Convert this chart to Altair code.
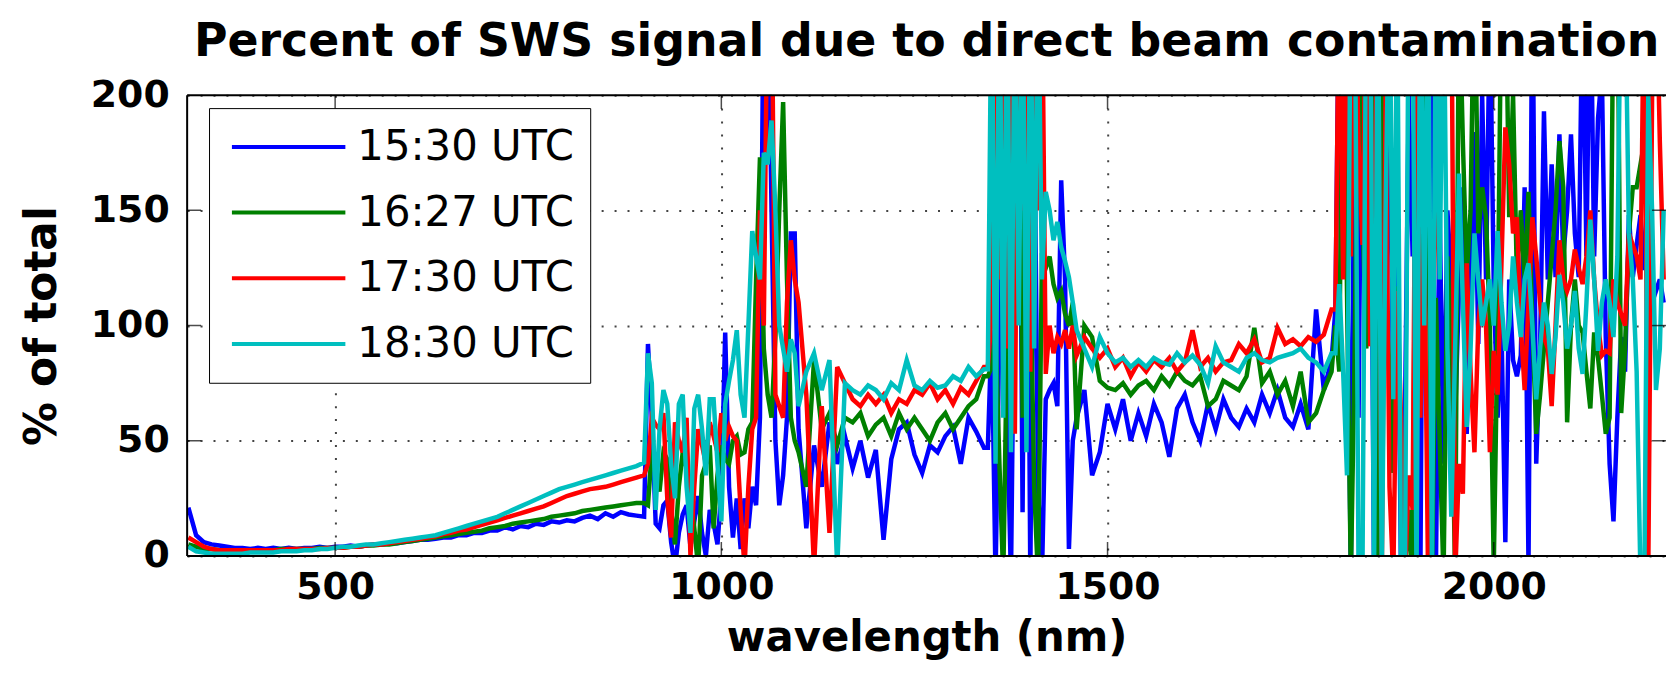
import altair as alt
import pandas as pd

# ---------------- data ----------------
# wavelength samples, region by region (nm)
WL_A = [310, 320, 330, 340, 350, 360, 370, 380, 390, 400,
        410, 420, 430, 440, 450, 460, 470, 480, 490, 500,
        510, 520, 530, 540, 550, 560, 570, 580, 590, 600,
        610, 620, 630, 640, 650, 660, 670, 680, 690, 700,
        710, 720, 730, 740, 750, 760, 770, 780, 790, 800,
        810, 820, 830, 840, 850, 860, 870, 880, 890, 900]
WL_B = [905, 910, 915, 920, 925, 930, 935, 940, 945, 950,
        955, 960, 965, 970, 975, 980, 985, 990, 995, 1000,
        1005, 1010, 1015, 1020, 1025, 1030, 1035, 1040, 1045, 1050,
        1055, 1060, 1065, 1070, 1075, 1080, 1085, 1090, 1095, 1100]
WL_C = [1110, 1120, 1130, 1140, 1150, 1160, 1170, 1180, 1190, 1200,
        1210, 1220, 1230, 1240, 1250, 1260, 1270, 1280, 1290, 1300,
        1310, 1320, 1330, 1340]
WL_D = [1345, 1350, 1355, 1360, 1365, 1370, 1375, 1380, 1385, 1390,
        1395, 1400, 1405, 1410, 1415, 1420, 1425, 1430, 1435, 1440,
        1445, 1450, 1455, 1460]
WL_E = [1470, 1480, 1490, 1500,
        1510, 1520, 1530, 1540, 1550, 1560, 1570, 1580, 1590, 1600,
        1610, 1620, 1630, 1640, 1650, 1660, 1670, 1680, 1690, 1700,
        1710, 1720, 1730, 1740, 1750, 1760, 1770, 1780, 1790]
WL_F = [1795, 1800, 1805, 1810, 1815, 1820, 1825, 1830, 1835, 1840,
        1845, 1850, 1855, 1860, 1865, 1870, 1875, 1880, 1885, 1890,
        1895, 1900, 1905, 1910, 1915, 1920, 1925, 1930, 1935, 1940,
        1945, 1950, 1955, 1960, 1965, 1970, 1975, 1980, 1985, 1990,
        1995, 2000, 2005, 2010, 2015, 2020, 2025, 2030, 2035, 2040,
        2045, 2050, 2055, 2060, 2065, 2070, 2075, 2080, 2085, 2090,
        2095, 2100, 2105, 2110, 2115, 2120, 2125, 2130, 2135, 2140,
        2145, 2150, 2155, 2160, 2165, 2170, 2175, 2180, 2185, 2190,
        2195, 2200, 2205, 2210, 2215, 2220]

# ---- 15:30 UTC (blue)
B_A = [21, 9, 6, 5, 4.5, 4, 3.5, 3.5, 3, 3.5,
       3, 3.5, 3, 3.5, 3, 3.5, 3.5, 4, 3.5, 4,
       4, 4.5, 4, 4.5, 5, 5, 5.5, 5.5, 6, 6.5,
       7, 7, 7.5, 8, 8, 9, 9, 10, 10, 11,
       11, 12.5, 11.5, 13, 12.5, 14, 13.5, 15, 14.5, 15.5,
       15, 16.5, 17.5, 16, 18.5, 17, 19, 18, 17.5, 17]
B_B = [92, 60, 14, 12, 22, 24, 6, -5, 10, 18,
       22, 4, 15, 26, 10, 0, 20, 14, 5, 28,
       97, 30, 8, 25, 3, 25, 12, 30, 22, 60,
       260, 260, 150, 50, 22, 35, 60, 140, 140, 55]
B_C = [12, 48, 30, 58, 40, 52, 38, 50, 34, 46,
       7, 42, 55, 58, 44, 36, 48, 45, 52, 56,
       40, 60, 54, 47]
B_D = [47, 98, -10, 100, 260, 60, -10, 150, 260, 19,
       260, -10, 200, 30, -10, 68, 72, 75, 65, 163,
       120, 3, 50, 60]
B_E = [72, 35, 45, 66,
       55, 68, 50, 62, 52, 66, 58, 43, 64, 70,
       58, 50, 66, 55, 68, 60, 56, 64, 58, 70,
       62, 72, 60, 56, 66, 55, 107, 72, 85]
B_F = [107, 260, 260, 140, -10, 210, 60, 260, 120, 230,
       -10, 190, 260, 100, 200, 65, 150, -10, 60, 200,
       130, 260, -10, 260, 150, 260, -10, 150, 40, 150,
       120, 60, 115, 160, 53, 115, 184, 92, 200, 120,
       240, 118, 60, 100, 6, 120, 85, 78, 87, 160,
       -5, 260, 40, 90, 193, 120, 170, 121, 183, 130,
       150, 183, 140, 121, 250, 130, 260, 130, 190, 210,
       95, 40, 15, 60, 95, 80, 148, 121, 135, 148,
       125, 125, 110, 115, 120, 110]

# ---- 16:27 UTC (green)
G_A = [5, 4, 3, 3, 2.5, 2.5, 2.5, 2.5, 2.5, 2.5,
       2.5, 2.5, 3, 3, 3, 3, 3, 3.5, 3.5, 3.5,
       3.5, 4, 4, 4.5, 4.5, 5, 5, 5.5, 6, 6.5,
       7, 7.5, 8, 8.5, 9, 9.5, 10, 10.5, 11, 12,
       12.5, 13, 14, 14.5, 15, 15.5, 16, 17, 17.5, 18,
       18.5, 19.5, 20, 20.5, 21, 21.5, 22, 22.5, 23, 23]
G_B = [22, 46, 35, 28, 45, 42, 20, 5, 30, 45,
       38, 30, 12, -5, 35, 40, 48, 12, 35, 48,
       42, 40, 50, 52, 44, 45, 55, 58, 120, 173,
       90, 70, 60, 95, 150, 197, 120, 60, 50, 45]
G_C = [30, 85, 55, 62, 48, 60, 58, 62, 52, 57,
       60, 52, 62, 55, 60, 55, 50, 58, 62, 55,
       60, 65, 68, 78]
G_D = [78, 82, 99, 40, -10, 98, 260, 120, 260, 60,
       260, 128, 30, -10, 128, 125, 130, 118, 112, 115,
       105, 100, 110, 55]
G_E = [100, 95, 76, 73,
       72, 75, 70, 74, 76, 72, 78, 74, 80, 76,
       74, 78, 65, 68, 76, 74, 72, 78, 99, 75,
       80, 70, 76, 65, 80, 58, 62, 72, 80]
G_F = [100, 80, 260, 115, -10, 90, 250, 150, 90, 250,
       200, -10, 260, 117, 80, 36, 117, 40, -10, 20,
       -10, 240, 102, 250, 160, -10, 112, 50, -10, 130,
       90, -10, 250, 180, 122, 150, 260, 140, 160, 147,
       100, -5, 100, 250, 260, 147, 200, 120, 150, 120,
       158, 100, 53, 70, 90, 110, 130, 150, 180, 160,
       58, 100, 120, 100, 97, 80, 64, 97, 86, 70,
       53, 60, 250, 260, 62, 90, 140, 160, 160, 170,
       180, 200, 250, 250, 210, 200]

# ---- 17:30 UTC (red)
R_A = [8, 6, 4, 3, 2.5, 2.5, 2.5, 2.5, 2.5, 2.5,
       2.5, 2.5, 2.5, 3, 3, 3, 3, 3, 3.5, 3.5,
       3.5, 4, 4, 4.5, 5, 5, 5.5, 6, 6.5, 7,
       7.5, 8, 8.5, 9.5, 10, 11, 11.5, 12.5, 13.5, 14.5,
       15.5, 16.5, 17.5, 18.5, 19.5, 20.5, 21.5, 23, 24.5, 26,
       27, 28, 29, 29.5, 30, 31, 32, 33, 34, 35]
R_B = [40, 60, 57, 55, 62, 25, 8, 58, 50, 45,
       60, 0, 30, 55, 48, 40, 58, 52, 45, 62,
       50, 56, 52, 50, 20, -5, 30, 55, 60, 150,
       100, 260, 260, 70, 65, 60, 110, 137, 120, 110]
R_C = [70, -5, 65, 10, 82, 75, 68, 65, 70, 66,
       70, 62, 68, 66, 72, 70, 75, 68, 72, 66,
       73, 70, 76, 82]
R_D = [82, 104, 260, 120, 260, 90, 260, 53, 260, 150,
       260, 80, 260, 150, 260, 79, 100, 88, 95, 92,
       98, 90, 100, 87]
R_E = [95, 90, 86, 90,
       82, 86, 78, 84, 80, 85, 82, 86, 80, 84,
       98, 82, 86, 80, 84, 85, 92, 88, 94, 84,
       86, 99, 92, 94, 91, 95, 93, 96, 107]
R_F = [107, 260, 120, 260, 130, 260, 179, 135, 260, 91,
       135, 260, -10, 200, 30, -10, 115, 60, -10, 35,
       20, 260, 60, 140, -10, 90, 150, 260, 200, 260,
       260, -10, 40, 27, 127, 80, 45, 100, 120, 100,
       45, 89, 70, 127, 186, 170, 140, 147, 100, 72,
       110, 147, 130, 110, 95, 90, 65, 100, 137, 120,
       115, 120, 133, 125, 118, 130, 150, 120, 100, 87,
       89, 88, 120, 110, 105, 100, 140, 135, 130, 120,
       260, -10, 200, 260, 180, 120]

# ---- 18:30 UTC (cyan)
C_A = [4, 2, 1.5, 1, 1, 1, 1, 1, 1.5, 1.5,
       1.5, 1.5, 2, 2, 2, 2.5, 2.5, 3, 3, 3.5,
       4, 4, 4.5, 5, 5, 5.5, 6, 6.5, 7, 7.5,
       8, 8.5, 9, 10, 11, 12, 13, 14, 15, 16,
       17, 18.5, 20, 21.5, 23, 24.5, 26, 27.5, 29, 30,
       31, 32, 33, 34, 35, 36, 37, 38, 39, 40.5]
C_B = [88, 75, 20, 55, 72, 66, 40, 25, 66, 70,
       30, 10, 64, 70, 55, 35, 68, 68, 40, 15,
       66, 76, 85, 98, 70, 60, 100, 141, 130, 120,
       175, 170, 189, 150, 100, 90, 80, 94, 88, 65]
C_C = [80, 88, 72, 85, -5, 75, 72, 70, 74, 72,
       68, 75, 72, 85, 74, 72, 76, 73, 74, 78,
       76, 82, 78, 81]
C_D = [81, 260, 40, 260, 60, 260, 45, 260, 100, 260,
       45, 260, 90, 260, 120, 158, 150, 137, 145, 134,
       128, 121, 110, 98]
C_E = [90, 82, 95, 88,
       84, 86, 82, 85, 82, 86, 84, 83, 88, 84,
       87, 83, 75, 91, 84, 82, 80, 86, 88, 85,
       84, 86, 87, 88, 90, 86, 84, 80, 88]
C_F = [88, 118, 80, 35, 260, 260, -10, -10, 260, 250,
       -10, 260, -10, 150, 260, 68, 250, -10, -10, 260,
       240, -10, 260, 100, 260, -10, 250, 120, 260, 90,
       17, 90, 166, 110, 56, 90, 140, 120, 100, 110,
       120, 100, 141, 110, 89, 100, 130, 110, 95, 120,
       127, 100, 68, 90, 110, 100, 79, 95, 122, 110,
       90, 100, 115, 90, 79, 110, 146, 120, 89, 110,
       120, 110, 95, 130, 260, 250, 140, 120, 80, -10,
       -10, 200, 150, 72, 90, 150]

WAVELENGTH = WL_A + WL_B + WL_C + WL_D + WL_E + WL_F
UTC_1530 = B_A + B_B + B_C + B_D + B_E + B_F
UTC_1627 = G_A + G_B + G_C + G_D + G_E + G_F
UTC_1730 = R_A + R_B + R_C + R_D + R_E + R_F
UTC_1830 = C_A + C_B + C_C + C_D + C_E + C_F

SERIES_LABELS = ["15:30 UTC", "16:27 UTC", "17:30 UTC", "18:30 UTC"]
SERIES_VALUES = [UTC_1530, UTC_1627, UTC_1730, UTC_1830]
SERIES_COLORS = ["#0000FF", "#008000", "#FF0000", "#00BFBF"]
for vals in SERIES_VALUES:
    assert len(vals) == len(WAVELENGTH), (len(vals), len(WAVELENGTH))

X_TICKS = [500, 1000, 1500, 2000]
Y_TICKS = [0, 50, 100, 150, 200]
X_DOMAIN = [308.4, 2223]
Y_DOMAIN = [0, 200]

TITLE = "Percent of SWS signal due to direct beam contamination"
X_TITLE = "wavelength (nm)"
Y_TITLE = "% of total"

# ---------------- tables ----------------
rows = []
for label, vals in zip(SERIES_LABELS, SERIES_VALUES):
    for w, v in zip(WAVELENGTH, vals):
        rows.append({"wavelength": w, "pct": v, "time": label})
df = pd.DataFrame(rows)

xtick_df = pd.DataFrame([{"wavelength": t, "pct": e} for t in X_TICKS for e in Y_DOMAIN])
ytick_df = pd.DataFrame([{"pct": t, "wavelength": e} for t in Y_TICKS[1:-1] for e in X_DOMAIN])
frame_h_df = pd.DataFrame({"pct": Y_DOMAIN})
frame_v_df = pd.DataFrame({"wavelength": X_DOMAIN[:1]})

FONT = "DejaVu Sans"
xscale = alt.Scale(domain=X_DOMAIN, nice=False, zero=False)
yscale = alt.Scale(domain=Y_DOMAIN, nice=False, zero=False)

x_axis = alt.Axis(
    values=X_TICKS, format="d", grid=True, gridDash=[2, 11], gridColor="#444",
    gridWidth=2, domain=False, ticks=False, tickSize=0, labelPadding=13,
    labelFont=FONT, labelFontSize=38, labelFontWeight="bold", labelColor="black",
    title=X_TITLE, titleFont=FONT, titleFontSize=42, titleFontWeight="bold",
    titleColor="black", titleX=743, titleY=95, titleBaseline="alphabetic",
    titleAlign="center", labelFlush=False,
)
y_axis = alt.Axis(
    values=Y_TICKS, format="d", grid=True, gridDash=[2, 11], gridColor="#444",
    gridWidth=2, domain=False, ticks=False, tickSize=0, labelPadding=18,
    labelFont=FONT, labelFontSize=38, labelFontWeight="bold", labelColor="black",
    title=Y_TITLE, titleFont=FONT, titleFontSize=44, titleFontWeight="bold",
    titleColor="black", titleX=-145, titleY=231.5, titleAngle=270,
    titleBaseline="middle", titleAlign="center", labelFlush=False,
)

X = alt.X("wavelength:Q", scale=xscale, axis=x_axis)
Y = alt.Y("pct:Q", scale=yscale, axis=y_axis)

lines = alt.Chart(df).mark_line(strokeWidth=4.5, clip=True).encode(
    x=X, y=Y,
    color=alt.Color(
        "time:N",
        scale=alt.Scale(domain=SERIES_LABELS, range=SERIES_COLORS),
        legend=alt.Legend(
            title=None, orient="none", legendX=22, legendY=13, direction="vertical",
            labelFont=FONT, labelFontSize=42, labelColor="black", labelFontWeight="normal",
            labelLimit=400,
            symbolType="stroke", symbolSize=12996, symbolStrokeWidth=4,
            symbolOffset=5, labelOffset=10, clipHeight=46, rowPadding=20,
            padding=16, strokeColor="black", fillColor="white",
        ),
    ),
)

xticks = alt.Chart(xtick_df).mark_tick(
    orient="vertical", size=28, thickness=1.5, color="black", clip=True
).encode(x=X, y=Y)
yticks = alt.Chart(ytick_df).mark_tick(
    orient="horizontal", size=28, thickness=1.5, color="black", clip=True
).encode(x=X, y=Y)

frame_h = alt.Chart(frame_h_df).mark_rule(color="black", strokeWidth=2).encode(y=Y)
frame_v = alt.Chart(frame_v_df).mark_rule(color="black", strokeWidth=2).encode(x=X)

chart = alt.layer(lines, xticks, yticks, frame_h, frame_v).properties(
    width=1486, height=463,
    title=alt.TitleParams(
        TITLE, font=FONT, fontSize=46, fontWeight="bold", color="black",
        anchor="middle", frame="group", baseline="alphabetic", offset=0, dy=26,
    ),
    autosize=alt.AutoSizeParams(type="none"),
    padding={"left": 180, "top": 86, "right": 0, "bottom": 110},
).configure_view(stroke=None).configure_legend(strokeWidth=2).configure(font=FONT)

chart.save("out.html", embed_options={"renderer": "svg", "actions": False})
